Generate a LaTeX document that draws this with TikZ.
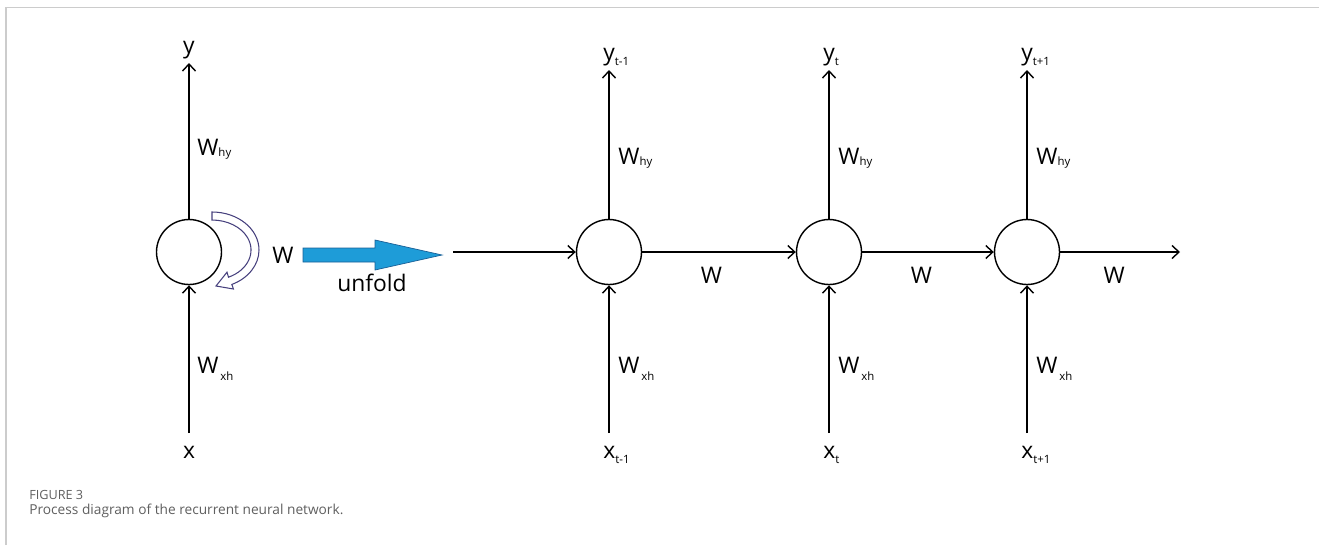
\documentclass[tikz,border=0pt]{standalone}
\usepackage{fontspec}
\setmainfont{Open Sans}
\usetikzlibrary{arrows.meta, positioning}

\definecolor{unfoldblue}{RGB}{30,156,216}
\definecolor{unfoldedge}{RGB}{25,95,150}
\definecolor{loopnavy}{RGB}{70,64,125}
\definecolor{framegray}{RGB}{204,204,204}
\definecolor{captgray}{RGB}{95,95,95}

\newcommand{\lowsub}[2][-3pt]{\raisebox{#1}{\fontsize{6.5}{6.5}\selectfont #2}}

\begin{document}
\begin{tikzpicture}[
        x=0.02cm, y=0.02cm,
        every node/.style={font=\fontsize{13}{13}\selectfont},
        cell/.style={circle, draw, line width=0.8pt, minimum size=1.3cm, inner sep=0pt},
        outlbl/.style={inner xsep=0pt, inner ysep=2pt},
        inlbl/.style={inner xsep=0pt, inner ysep=7.4pt},
        weight/.style={inner sep=0pt},
        arrow/.style={-{Straight Barb[length=1.4mm, width=2.6mm]}, line width=0.8pt},
        loopshape/.style={draw=loopnavy, line width=0.6pt, fill=white},
        unfoldarrow/.style={draw=unfoldedge, line width=0.4pt, fill=unfoldblue},
        caption/.style={text=captgray, inner sep=0pt}
    ]
    \useasboundingbox (0,0) rectangle (1319,-545);
    % frame
    \draw[framegray, line width=0.85pt] (6,-545) -- (6,-7.5) -- (1319,-7.5);

    % folded cell
    \node[cell] (c0) at (189,-252) {};
    \node[outlbl, anchor=south] (y0) at (189,-63) {y};
    \node[inlbl, anchor=north] (x0) at (189,-433) {x};
    \draw[arrow] (c0) -- (y0);
    \draw[arrow] (x0) -- (c0);
    \node[weight, anchor=base west] (why0) at (197,-155) {W\lowsub[-1pt]{hy}};
    \node[weight, anchor=base west] (wxh0) at (197,-373) {W\lowsub[-4pt]{\,xh}};
    \draw[loopshape] (212,-212) arc[start angle=90, end angle=-65, x radius=47, y radius=38]
        -- (233.4,-289) -- (216,-286) -- (227,-272.2) -- (228.5,-277.2)
        arc[start angle=-65, end angle=90, x radius=39, y radius=30] -- cycle;
    \node[weight] (wloop) at (283,-255) {W};

    % unfold arrow
    \draw[unfoldarrow] (303,-248) -- (375,-248) -- (375,-240) -- (442,-255)
        -- (375,-270) -- (375,-262) -- (303,-262) -- cycle;
    \node[weight] (unfold) at (372,-283) {unfold};

    % unfolded cells
    \node[cell] (c1) at (609,-252) {};
    \node[cell] (c2) at (829,-252) {};
    \node[cell] (c3) at (1027,-252) {};
    \coordinate (in) at (453,-252);
    \coordinate (out) at (1180,-252);

    \node[outlbl, anchor=south west] (y1) at (603,-70) {y\lowsub{t-1}};
    \node[outlbl, anchor=south west] (y2) at (823,-70) {y\lowsub{t}};
    \node[outlbl, anchor=south west] (y3) at (1021,-70) {y\lowsub{t+1}};
    \node[inlbl, anchor=north west] (x1) at (603,-433) {x\lowsub{t-1}};
    \node[inlbl, anchor=north west] (x2) at (823,-433) {x\lowsub{t}};
    \node[inlbl, anchor=north west] (x3) at (1021,-433) {x\lowsub{t+1}};

    \draw[arrow] (c1) -- (c1 |- y1.south);
    \draw[arrow] (c2) -- (c2 |- y2.south);
    \draw[arrow] (c3) -- (c3 |- y3.south);
    \draw[arrow] (c1 |- x1.north) -- (c1);
    \draw[arrow] (c2 |- x2.north) -- (c2);
    \draw[arrow] (c3 |- x3.north) -- (c3);

    \node[weight, anchor=base west] (why1) at (618,-164) {W\lowsub[-1pt]{hy}};
    \node[weight, anchor=base west] (why2) at (838,-164) {W\lowsub[-1pt]{hy}};
    \node[weight, anchor=base west] (why3) at (1036,-164) {W\lowsub[-1pt]{hy}};
    \node[weight, anchor=base west] (wxh1) at (618,-373) {W\lowsub[-4pt]{\,xh}};
    \node[weight, anchor=base west] (wxh2) at (838,-373) {W\lowsub[-4pt]{\,xh}};
    \node[weight, anchor=base west] (wxh3) at (1036,-373) {W\lowsub[-4pt]{\,xh}};

    \draw[arrow] (in) -- (c1);
    \draw[arrow] (c1) -- node[weight, below=8.5pt, pos=0.45] {W} (c2);
    \draw[arrow] (c2) -- node[weight, below=8.5pt, pos=0.45] {W} (c3);
    \draw[arrow] (c3) -- node[weight, below=8.5pt, pos=0.45] {W} (out);

    % caption
    \node[caption, anchor=base west, font=\fontsize{7.2}{7.2}\selectfont] (fignum) at (29,-499) {FIGURE 3};
    \node[caption, anchor=base west, font=\fontsize{7.8}{7.8}\selectfont] (figtext) at (29,-514) {Process diagram of the recurrent neural network.};
\end{tikzpicture}
\end{document}
